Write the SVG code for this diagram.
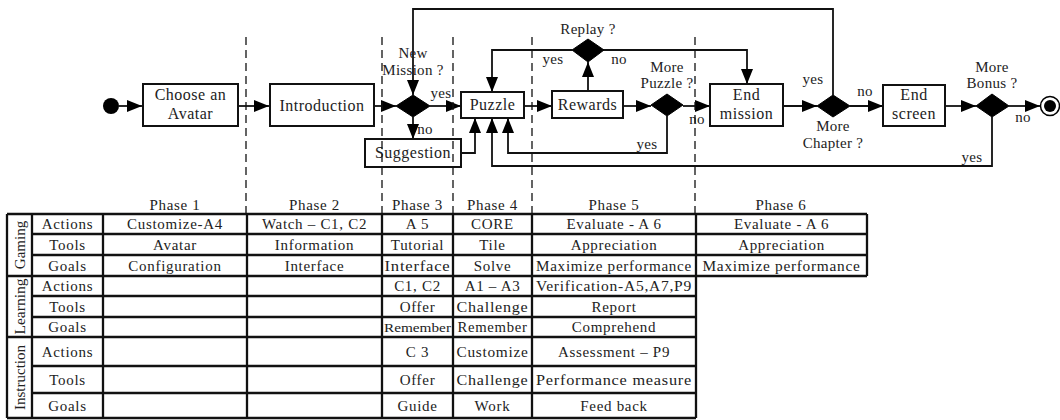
<svg xmlns="http://www.w3.org/2000/svg" width="1060" height="420" viewBox="0 0 1060 420">
<style>
text{font-family:"Liberation Serif","Times New Roman",serif;fill:#222;}
.n{font-size:16px;letter-spacing:0.5px;text-anchor:middle;}
.l{font-size:15px;letter-spacing:0.3px;text-anchor:middle;}
.t{font-size:15px;letter-spacing:0.7px;text-anchor:middle;}
.gl{font-size:15px;letter-spacing:0;text-anchor:middle;}
.box{fill:#fff;stroke:#111;stroke-width:2;}
.dia{fill:#000;stroke:#000;stroke-width:1;}
.c{fill:none;stroke:#111;stroke-width:1.8;}
.dash{fill:none;stroke:#111;stroke-width:1.3;stroke-dasharray:8 5;}
.g{fill:none;stroke:#111;stroke-width:2.3;}
</style>
<defs>
<marker id="ah" markerUnits="userSpaceOnUse" markerWidth="16" markerHeight="14" refX="15" refY="7" orient="auto">
<path d="M0,1 L15,7 L0,13 Z" fill="#000"/>
</marker>
</defs>
<g id="connectors">
<path class="c" d="M119,106 H142" marker-end="url(#ah)"/>
<path class="c" d="M238,106 H269" marker-end="url(#ah)"/>
<path class="c" d="M374,106 H396" marker-end="url(#ah)"/>
<path class="c" d="M413,117 V139" marker-end="url(#ah)"/>
<path class="c" d="M430,106 H461" marker-end="url(#ah)"/>
<path class="c" d="M524,106 H552" marker-end="url(#ah)"/>
<path class="c" d="M588,91 V62" marker-end="url(#ah)"/>
<path class="c" d="M572,50 H492 V92" marker-end="url(#ah)"/>
<path class="c" d="M603,50 H747 V84" marker-end="url(#ah)"/>
<path class="c" d="M623,106 H651" marker-end="url(#ah)"/>
<path class="c" d="M683,106 H710" marker-end="url(#ah)"/>
<path class="c" d="M667,116 V153 H508 V118" marker-end="url(#ah)"/>
<path class="c" d="M461,153 H475 V118" marker-end="url(#ah)"/>
<path class="c" d="M783,106 H817" marker-end="url(#ah)"/>
<path class="c" d="M833,95 V9 H413 V95" marker-end="url(#ah)"/>
<path class="c" d="M850,106 H883" marker-end="url(#ah)"/>
<path class="c" d="M945,106 H976" marker-end="url(#ah)"/>
<path class="c" d="M1009,106 H1040" marker-end="url(#ah)"/>
<path class="c" d="M992,117 V166 H492 V118" marker-end="url(#ah)"/>
</g>
<g id="start"><circle cx="111" cy="106" r="8" fill="#000"/></g>
<g id="end"><circle cx="1050" cy="106" r="9.5" fill="#fff" stroke="#000" stroke-width="1.5"/><circle cx="1050" cy="106" r="6" fill="#000"/></g>
<g id="choose"><rect class="box" x="143" y="84" width="95" height="42"/><text class="n" x="190.5" y="100">Choose an</text><text class="n" x="190.5" y="119">Avatar</text></g>
<g id="intro"><rect class="box" x="270" y="84" width="104" height="42"/><text class="n" x="322" y="111">Introduction</text></g>
<g id="newmission"><path class="dia" d="M396,106 L413,95 L430,106 L413,117 Z"/><text class="l" x="413" y="58">New</text><text class="l" x="413" y="75">Mission ?</text><text class="l" x="441" y="98">yes</text><text class="l" x="425" y="134">no</text></g>
<g id="suggestion"><rect class="box" x="365" y="139" width="96" height="28" style="fill:none"/><text class="n" x="413" y="158">Suggestion</text></g>
<g id="puzzle"><rect class="box" x="461" y="92" width="63" height="26"/><text class="n" x="492.5" y="110">Puzzle</text></g>
<g id="rewards"><rect class="box" x="552" y="91" width="71" height="27"/><text class="n" x="587.5" y="110">Rewards</text></g>
<g id="replay"><path class="dia" d="M572,50 L588,39 L604,50 L588,62 Z"/><text class="l" x="588" y="34">Replay ?</text><text class="l" x="553" y="64">yes</text><text class="l" x="619" y="64">no</text></g>
<g id="morepuzzle"><path class="dia" d="M651,105 L667,94 L683,105 L667,116 Z"/><text class="l" x="667" y="72">More</text><text class="l" x="667" y="88">Puzzle ?</text><text class="l" x="697" y="124">no</text><text class="l" x="647" y="149">yes</text></g>
<g id="endmission"><rect class="box" x="710" y="84" width="73" height="42"/><text class="n" x="746.5" y="100">End</text><text class="n" x="746.5" y="119">mission</text></g>
<g id="morechapter"><path class="dia" d="M817,106 L833,95 L850,106 L833,117 Z"/><text class="l" x="813" y="84">yes</text><text class="l" x="865" y="96">no</text><text class="l" x="833" y="131">More</text><text class="l" x="833" y="148">Chapter ?</text></g>
<g id="endscreen"><rect class="box" x="883" y="85" width="62" height="41"/><text class="n" x="914" y="100">End</text><text class="n" x="914" y="119">screen</text></g>
<g id="morebonus"><path class="dia" d="M976,106 L992,94 L1009,106 L992,117 Z"/><text class="l" x="992" y="72">More</text><text class="l" x="992" y="88">Bonus ?</text><text class="l" x="1023" y="122">no</text><text class="l" x="972" y="162">yes</text></g>
<g id="phases">
<path class="dash" d="M246,37 V213 M382,37 V213 M453,37 V213 M532,37 V213 M695,37 V213"/>
<text class="t" x="175" y="210">Phase 1</text>
<text class="t" x="314.5" y="210">Phase 2</text>
<text class="t" x="417.5" y="210">Phase 3</text>
<text class="t" x="492.5" y="210">Phase 4</text>
<text class="t" x="614" y="210">Phase 5</text>
<text class="t" x="781" y="210">Phase 6</text>
</g>
<g id="table">
<path class="g" d="M7,214 H867 M32,234 H867 M32,255 H867 M7,276 H867 M32,296 H696 M32,317 H696 M7,337 H696 M32,366 H696 M32,393 H696 M7,418 H696 M7,214 V418 M32,214 V418 M103,214 V418 M247,214 V418 M382,214 V418 M453,214 V418 M532,214 V418 M696,214 V418 M867,214 V276"/>
<text class="gl" transform="rotate(-90 25 245)" x="25" y="245">Gaming</text>
<text class="gl" transform="rotate(-90 25 306.5)" x="25" y="306.5" textLength="56" lengthAdjust="spacingAndGlyphs">Learning</text>
<text class="gl" transform="rotate(-90 25 377.5)" x="25" y="377.5">Instruction</text>
<text class="t" x="67.5" y="229">Actions</text>
<text class="t" x="67.5" y="250">Tools</text>
<text class="t" x="67.5" y="271">Goals</text>
<text class="t" x="67.5" y="291">Actions</text>
<text class="t" x="67.5" y="312">Tools</text>
<text class="t" x="67.5" y="332">Goals</text>
<text class="t" x="67.5" y="357">Actions</text>
<text class="t" x="67.5" y="385">Tools</text>
<text class="t" x="67.5" y="411">Goals</text>
<text class="t" x="175" y="229">Customize-A4</text>
<text class="t" x="175" y="250">Avatar</text>
<text class="t" x="175" y="271">Configuration</text>
<text class="t" x="314.5" y="229">Watch – C1, C2</text>
<text class="t" x="314.5" y="250">Information</text>
<text class="t" x="314.5" y="271">Interface</text>
<text class="t" x="417.5" y="229">A 5</text>
<text class="t" x="417.5" y="250">Tutorial</text>
<text class="t" x="417.5" y="271" textLength="66" lengthAdjust="spacingAndGlyphs">Interface</text>
<text class="t" x="417.5" y="291">C1, C2</text>
<text class="t" x="417.5" y="312">Offer</text>
<text class="t" x="417.5" y="332" style="font-size:13px;letter-spacing:0" textLength="67" lengthAdjust="spacingAndGlyphs">Remember</text>
<text class="t" x="417.5" y="357">C 3</text>
<text class="t" x="417.5" y="385">Offer</text>
<text class="t" x="417.5" y="411">Guide</text>
<text class="t" x="492.5" y="229">CORE</text>
<text class="t" x="492.5" y="250">Tile</text>
<text class="t" x="492.5" y="271">Solve</text>
<text class="t" x="492.5" y="291">A1 – A3</text>
<text class="t" x="492.5" y="312" textLength="72" lengthAdjust="spacingAndGlyphs">Challenge</text>
<text class="t" x="492.5" y="332" textLength="70" lengthAdjust="spacingAndGlyphs">Remember</text>
<text class="t" x="492.5" y="357" textLength="72" lengthAdjust="spacingAndGlyphs">Customize</text>
<text class="t" x="492.5" y="385" textLength="72" lengthAdjust="spacingAndGlyphs">Challenge</text>
<text class="t" x="492.5" y="411">Work</text>
<text class="t" x="614" y="229">Evaluate - A 6</text>
<text class="t" x="614" y="250">Appreciation</text>
<text class="t" x="614" y="271" textLength="156" lengthAdjust="spacingAndGlyphs">Maximize performance</text>
<text class="t" x="614" y="291" textLength="156" lengthAdjust="spacingAndGlyphs">Verification-A5,A7,P9</text>
<text class="t" x="614" y="312">Report</text>
<text class="t" x="614" y="332">Comprehend</text>
<text class="t" x="614" y="357">Assessment – P9</text>
<text class="t" x="614" y="385" textLength="156" lengthAdjust="spacingAndGlyphs">Performance measure</text>
<text class="t" x="614" y="411">Feed back</text>
<text class="t" x="781.5" y="229">Evaluate - A 6</text>
<text class="t" x="781.5" y="250">Appreciation</text>
<text class="t" x="781.5" y="271" textLength="158" lengthAdjust="spacingAndGlyphs">Maximize performance</text>
</g>
</svg>
